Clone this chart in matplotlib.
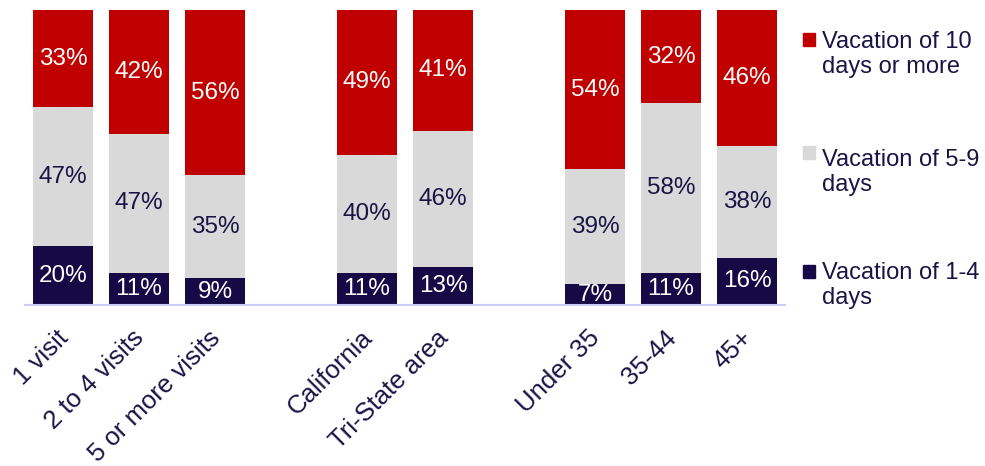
import matplotlib.pyplot as plt
from matplotlib.patches import Rectangle
from matplotlib.transforms import ScaledTranslation
import numpy as np

plt.rcParams["font.family"] = ["Liberation Sans", "DejaVu Sans"]

categories = ["1 visit", "2 to 4 visits", "5 or more visits",
              "California", "Tri-State area",
              "Under 35", "35-44", "45+"]
# slot positions (gaps between the three groups)
positions = [0, 1, 2, 4, 5, 7, 8, 9]

short_trip = [20, 11, 9, 11, 13, 7, 11, 16]
medium_trip = [47, 47, 35, 40, 46, 39, 58, 38]
long_trip = [33, 42, 56, 49, 41, 54, 32, 46]

series_names = ["Vacation of 1-4\ndays", "Vacation of 5-9\ndays", "Vacation of 10\ndays or more"]
colors = ["#150A45", "#D9D9D9", "#C00000"]
label_colors = ["white", "#1A1446", "white"]
text_color = "#1A1446"

fig = plt.figure(figsize=(9.85, 4.66), dpi=100)
ax = fig.add_axes([25 / 985, 1 - 305 / 466, 760 / 985, 295 / 466])

series = np.array([short_trip, medium_trip, long_trip], dtype=float)
totals = series.sum(axis=0)
shares = series / totals * 100

bottom = np.zeros(len(categories))
for i in range(3):
    ax.bar(positions, shares[i], bottom=bottom, width=0.8, color=colors[i])
    for x, b, h, v in zip(positions, bottom, shares[i], series[i]):
        ax.text(x, b + h / 2, f"{int(v)}%", ha="center", va="center",
                fontsize=17.5, color=label_colors[i])
    bottom += shares[i]

ax.set_xlim(-0.5, 9.5)
ax.set_ylim(0, 100)
ax.set_yticks([])
ax.set_xticks(positions)
ax.set_xticklabels(categories, rotation=45, ha="right", rotation_mode="anchor",
                   fontsize=18.5, color=text_color)
ax.tick_params(axis="x", length=0, pad=15)
shift = ScaledTranslation(-7 / 100, 0, fig.dpi_scale_trans)
for lbl in ax.get_xticklabels():
    lbl.set_transform(lbl.get_transform() + shift)
for side in ["left", "right", "top"]:
    ax.spines[side].set_visible(False)
ax.spines["bottom"].set_color("#CCCCF5")
ax.spines["bottom"].set_linewidth(1.5)

# legend, top entry = last series
legend_tops = [262, 149, 31]
marker_tops = [265, 146, 33]
for i in range(3):
    fig.add_artist(Rectangle((803 / 985, 1 - (marker_tops[i] + 13) / 466), 12 / 985, 13 / 466,
                             transform=fig.transFigure, color=colors[i]))
    fig.text(822 / 985, 1 - legend_tops[i] / 466, series_names[i], ha="left", va="top",
             fontsize=17, color=text_color, linespacing=1.2)

fig.savefig("out.png", dpi=100)
